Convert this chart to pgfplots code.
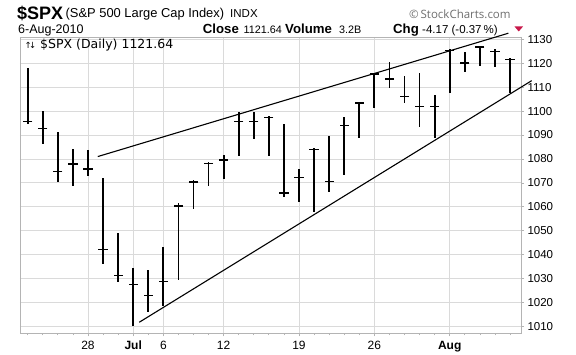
\documentclass[border=0pt]{standalone}
\usepackage{pgfplots}
\pgfplotsset{compat=1.18}
\usepackage{pgfplotstable}
\usepackage{fontspec}
\setmainfont{Liberation Sans}
\newfontfamily\dejavu{DejaVu Sans}
\newfontfamily\opensans{Open Sans}
\definecolor{gridc}{HTML}{DADADA}
\definecolor{framec}{HTML}{B4B4B4}
\definecolor{redtri}{HTML}{C8184A}
\definecolor{scgray}{HTML}{6E6E6E}

\pgfplotstableread{
i h l c
0 1118.1 1094.5 1095.6
1 1100.1 1086.2 1092.6
2 1091.4 1070.5 1074.7
3 1084.2 1068.8 1077.9
4 1083.8 1072.7 1075.8
5 1072.2 1036.0 1042.3
6 1049.2 1028.8 1031.3
7 1034.6 1010.4 1027.7
8 1033.6 1016.3 1022.9
9 1043.4 1018.4 1028.8
10 1061.5 1029.5 1060.3
11 1071.3 1059.0 1070.3
12 1078.9 1068.8 1078.0
13 1081.7 1071.5 1079.6
14 1099.8 1081.4 1095.6
15 1099.4 1088.2 1095.6
16 1098.0 1081.4 1097.3
17 1094.5 1064.3 1065.7
18 1075.8 1061.9 1072.2
19 1084.5 1058.0 1084.0
20 1089.7 1066.4 1070.5
21 1097.7 1073.1 1094.0
22 1103.7 1088.6 1103.3
23 1115.8 1101.2 1115.5
24 1120.3 1109.5 1113.4
25 1114.6 1103.3 1106.1
26 1115.8 1093.3 1101.8
27 1106.8 1088.6 1101.8
28 1125.8 1107.5 1125.2
29 1124.8 1116.4 1120.0
30 1127.2 1118.9 1126.7
31 1125.8 1118.3 1124.8
32 1122.1 1107.7 1121.6
}\bars

\begin{document}
\begin{tikzpicture}[x=1pt,y=1pt]
\useasboundingbox (0,0) rectangle (576,355);
% header
\node[anchor=base west, inner sep=0pt] at (17,335.7) {\fontsize{18}{20}\selectfont\bfseries \$SPX};
\node[anchor=base west, inner sep=0pt] at (65.5,337) {\fontsize{12.9}{14}\selectfont (S\&P 500 Large Cap Index)};
\node[anchor=base west, inner sep=0pt] at (230,337) {\fontsize{11.5}{13}\selectfont INDX};
\node[anchor=base west, inner sep=0pt, text=scgray] at (409,336.7) {\opensans\fontsize{11.5}{13}\selectfont \textcopyright\,StockCharts.com};
\node[anchor=base west, inner sep=0pt] at (18,321.7) {\fontsize{12.5}{14}\selectfont 6-Aug-2010};
\node[anchor=base west, inner sep=0pt] at (202.7,321.7) {\fontsize{13.2}{15}\selectfont\bfseries Close};
\node[anchor=base west, inner sep=0pt] at (243.5,321.7) {\fontsize{10.8}{13}\selectfont 1121.64};
\node[anchor=base west, inner sep=0pt] at (285,321.7) {\fontsize{13.2}{15}\selectfont\bfseries Volume};
\node[anchor=base west, inner sep=0pt] at (339,321.7) {\fontsize{10.8}{13}\selectfont 3.2B};
\node[anchor=base west, inner sep=0pt] at (393,321.7) {\fontsize{13.2}{15}\selectfont\bfseries Chg};
\node[anchor=base west, inner sep=0pt] at (422,321.7) {\fontsize{11.5}{13}\selectfont -4.17 (-0.37\,\%)};
\fill[redtri] (514.5,328.5) -- (523,328.5) -- (518.75,323.5) -- cycle;
\begin{axis}[
  at={(20pt,21.7pt)}, anchor=south west,
  scale only axis, width=501pt, height=296pt,
  xmin=-0.51, xmax=32.73, ymin=1007.2, ymax=1130.8,
  clip=false,
  axis line style={framec, line width=0.8pt},
  xtick={4,7,9,13,18,23,28},
  xticklabels={28,\textbf{Jul},6,12,19,26,\textbf{Aug}},
  minor xtick={0,...,32},
  ytick={1010,1020,...,1130},
  xmajorgrids, ymajorgrids,
  grid style={gridc, line width=0.8pt},
  tick align=outside,
  xtick pos=bottom, ytick pos=right,
  yticklabel pos=right,
  major tick length=3pt, minor tick length=2pt,
  tick style={framec, line width=0.7pt},
  /pgf/number format/assume math mode=true,
  /pgf/number format/1000 sep={},
  yticklabel style={font=\fontsize{11.5}{13}\selectfont, anchor=west, xshift=0pt},
  xticklabel style={font=\fontsize{12}{14}\selectfont, yshift=-1pt},
]
\node[anchor=base west, inner sep=0pt] at (axis cs:-0.22,1126.3) {\dejavu\fontsize{8.5}{9}\selectfont ↑\kern-0.3em↓};
\node[anchor=base west, inner sep=0pt] at (axis cs:0.82,1126) {\dejavu\fontsize{12.5}{14}\selectfont \$SPX (Daily) 1121.64};
\addplot[black, only marks, mark=-, mark size=4.6pt, mark options={line width=1.4pt},
  error bars/.cd, y dir=both, y explicit, error mark=none,
  error bar style={line width=1.8pt, black}]
  table[x=i, y=c, y error plus expr=\thisrow{h}-\thisrow{c}, y error minus expr=\thisrow{c}-\thisrow{l}] {\bars};
\addplot[black, line width=1.1pt] coordinates {(4.65,1081.0) (31.89,1132.5)};
\addplot[black, line width=1.1pt] coordinates {(7.40,1011.8) (33.44,1112.7)};
\end{axis}
\end{tikzpicture}
\end{document}
